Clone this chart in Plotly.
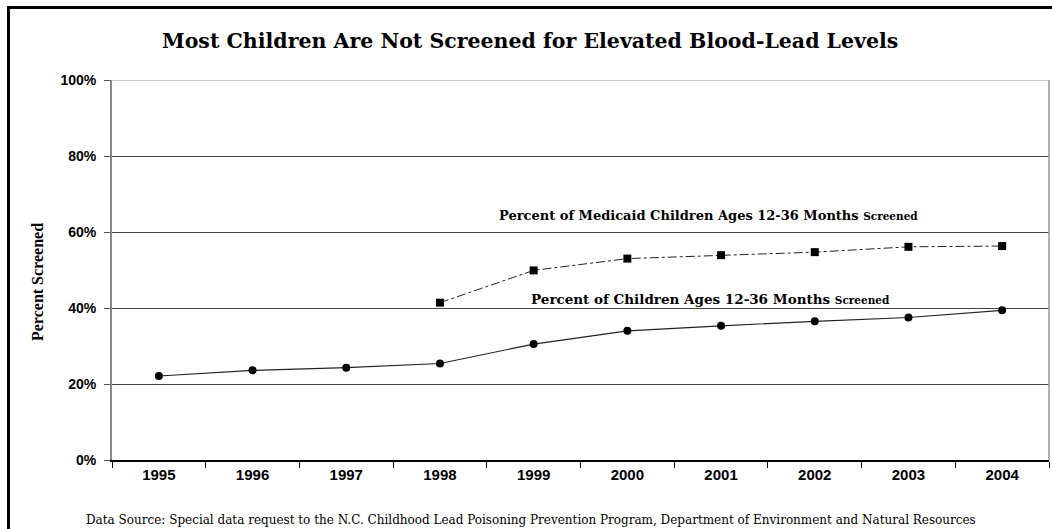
import plotly.graph_objects as go

years = ["1995", "1996", "1997", "1998", "1999", "2000", "2001", "2002", "2003", "2004"]
all_children = [22.1, 23.6, 24.3, 25.4, 30.5, 34.0, 35.3, 36.5, 37.5, 39.4]
medicaid_years = ["1998", "1999", "2000", "2001", "2002", "2003", "2004"]
medicaid_children = [41.4, 49.9, 53.0, 53.9, 54.7, 56.1, 56.3]
y_ticks = [0, 20, 40, 60, 80, 100]
y_tick_labels = ["0%", "20%", "40%", "60%", "80%", "100%"]

W, H = 1052, 529
L, R, T, B = 112, 3, 80, 69
pw, ph = W - L - R, H - T - B

def px(x):
    return (x - L) / pw

def py(y):
    return (H - B - y) / ph

fig = go.Figure()
fig.add_trace(go.Scatter(
    x=medicaid_years, y=medicaid_children, mode="lines+markers",
    line=dict(color="#222", width=1, dash="dashdot"),
    marker=dict(symbol="square", size=8, color="black"),
    showlegend=False, hoverinfo="skip"))
fig.add_trace(go.Scatter(
    x=years, y=all_children, mode="lines+markers",
    line=dict(color="#222", width=1.2),
    marker=dict(symbol="circle", size=8, color="black"),
    showlegend=False, hoverinfo="skip"))

fig.update_layout(
    width=W, height=H,
    margin=dict(l=L, r=R, t=T, b=B),
    paper_bgcolor="white", plot_bgcolor="white",
    font=dict(family="Liberation Sans", color="black"),
    xaxis=dict(type="category", categoryorder="array", categoryarray=years,
               tickson="boundaries", ticks="outside", ticklen=6, tickcolor="black",
               showgrid=False, showline=True, linecolor="black", linewidth=1.5,
               tickfont=dict(family="Liberation Sans", size=15, color="black", weight="bold"),
               range=[-0.5, 9.5], fixedrange=True),
    yaxis=dict(range=[0, 100], tickvals=y_ticks, ticktext=y_tick_labels,
               ticks="outside", ticklen=6, tickcolor="#555",
               ticklabelstandoff=5,
               showgrid=True, gridcolor="#444", gridwidth=1,
               showline=True, linecolor="#888", linewidth=2,
               zeroline=False,
               tickfont=dict(family="Liberation Sans", size=14, color="black", weight="bold"),
               fixedrange=True),
)

shapes = [
    dict(type="line", xref="paper", yref="y", x0=0, x1=1, y0=100, y1=100,
         line=dict(color="#bbb", width=1.5)),
    dict(type="line", xref="paper", yref="paper", x0=1, x1=1, y0=0, y1=1,
         line=dict(color="#999", width=1.5)),
    dict(type="line", xref="paper", yref="paper", x0=px(8.5), x1=px(8.5), y0=py(7), y1=py(540),
         line=dict(color="black", width=3)),
    dict(type="line", xref="paper", yref="paper", x0=px(7), x1=px(1060), y0=py(7.5), y1=py(7.5),
         line=dict(color="black", width=3)),
]
fig.update_layout(shapes=shapes)

annotations = [
    dict(text="<b>Most Children Are Not Screened for Elevated Blood-Lead Levels</b>",
         x=px(530), y=py(41), xref="paper", yref="paper", showarrow=False,
         xanchor="center", yanchor="middle",
         font=dict(family="DejaVu Serif", size=20.5, color="black")),
    dict(text="<b>Percent Screened</b>", textangle=-90,
         x=px(37), y=py(282), xref="paper", yref="paper", showarrow=False,
         xanchor="center", yanchor="middle",
         font=dict(family="Liberation Serif", size=16, color="black")),
    dict(text="<b>Percent of Medicaid Children Ages 12-36 Months <span style='font-size:10.5px'>Screened</span></b>",
         x=px(708), y=py(215), xref="paper", yref="paper", showarrow=False,
         xanchor="center", yanchor="middle",
         font=dict(family="DejaVu Serif", size=13, color="black")),
    dict(text="<b>Percent of Children Ages 12-36 Months <span style='font-size:10.5px'>Screened</span></b>",
         x=px(710), y=py(299), xref="paper", yref="paper", showarrow=False,
         xanchor="center", yanchor="middle",
         font=dict(family="DejaVu Serif", size=13.5, color="black")),
    dict(text="Data Source: Special data request to the N.C. Childhood Lead Poisoning Prevention Program, Department of Environment and Natural Resources",
         x=px(531), y=py(520), xref="paper", yref="paper", showarrow=False,
         xanchor="center", yanchor="middle",
         font=dict(family="DejaVu Serif", size=12, color="black")),
]
fig.update_layout(annotations=annotations)

fig.write_html("out.html",
               config={"displayModeBar": False, "staticPlot": True},
               post_script="document.body.style.margin='0';document.body.style.padding='0';document.documentElement.style.overflow='hidden';")
